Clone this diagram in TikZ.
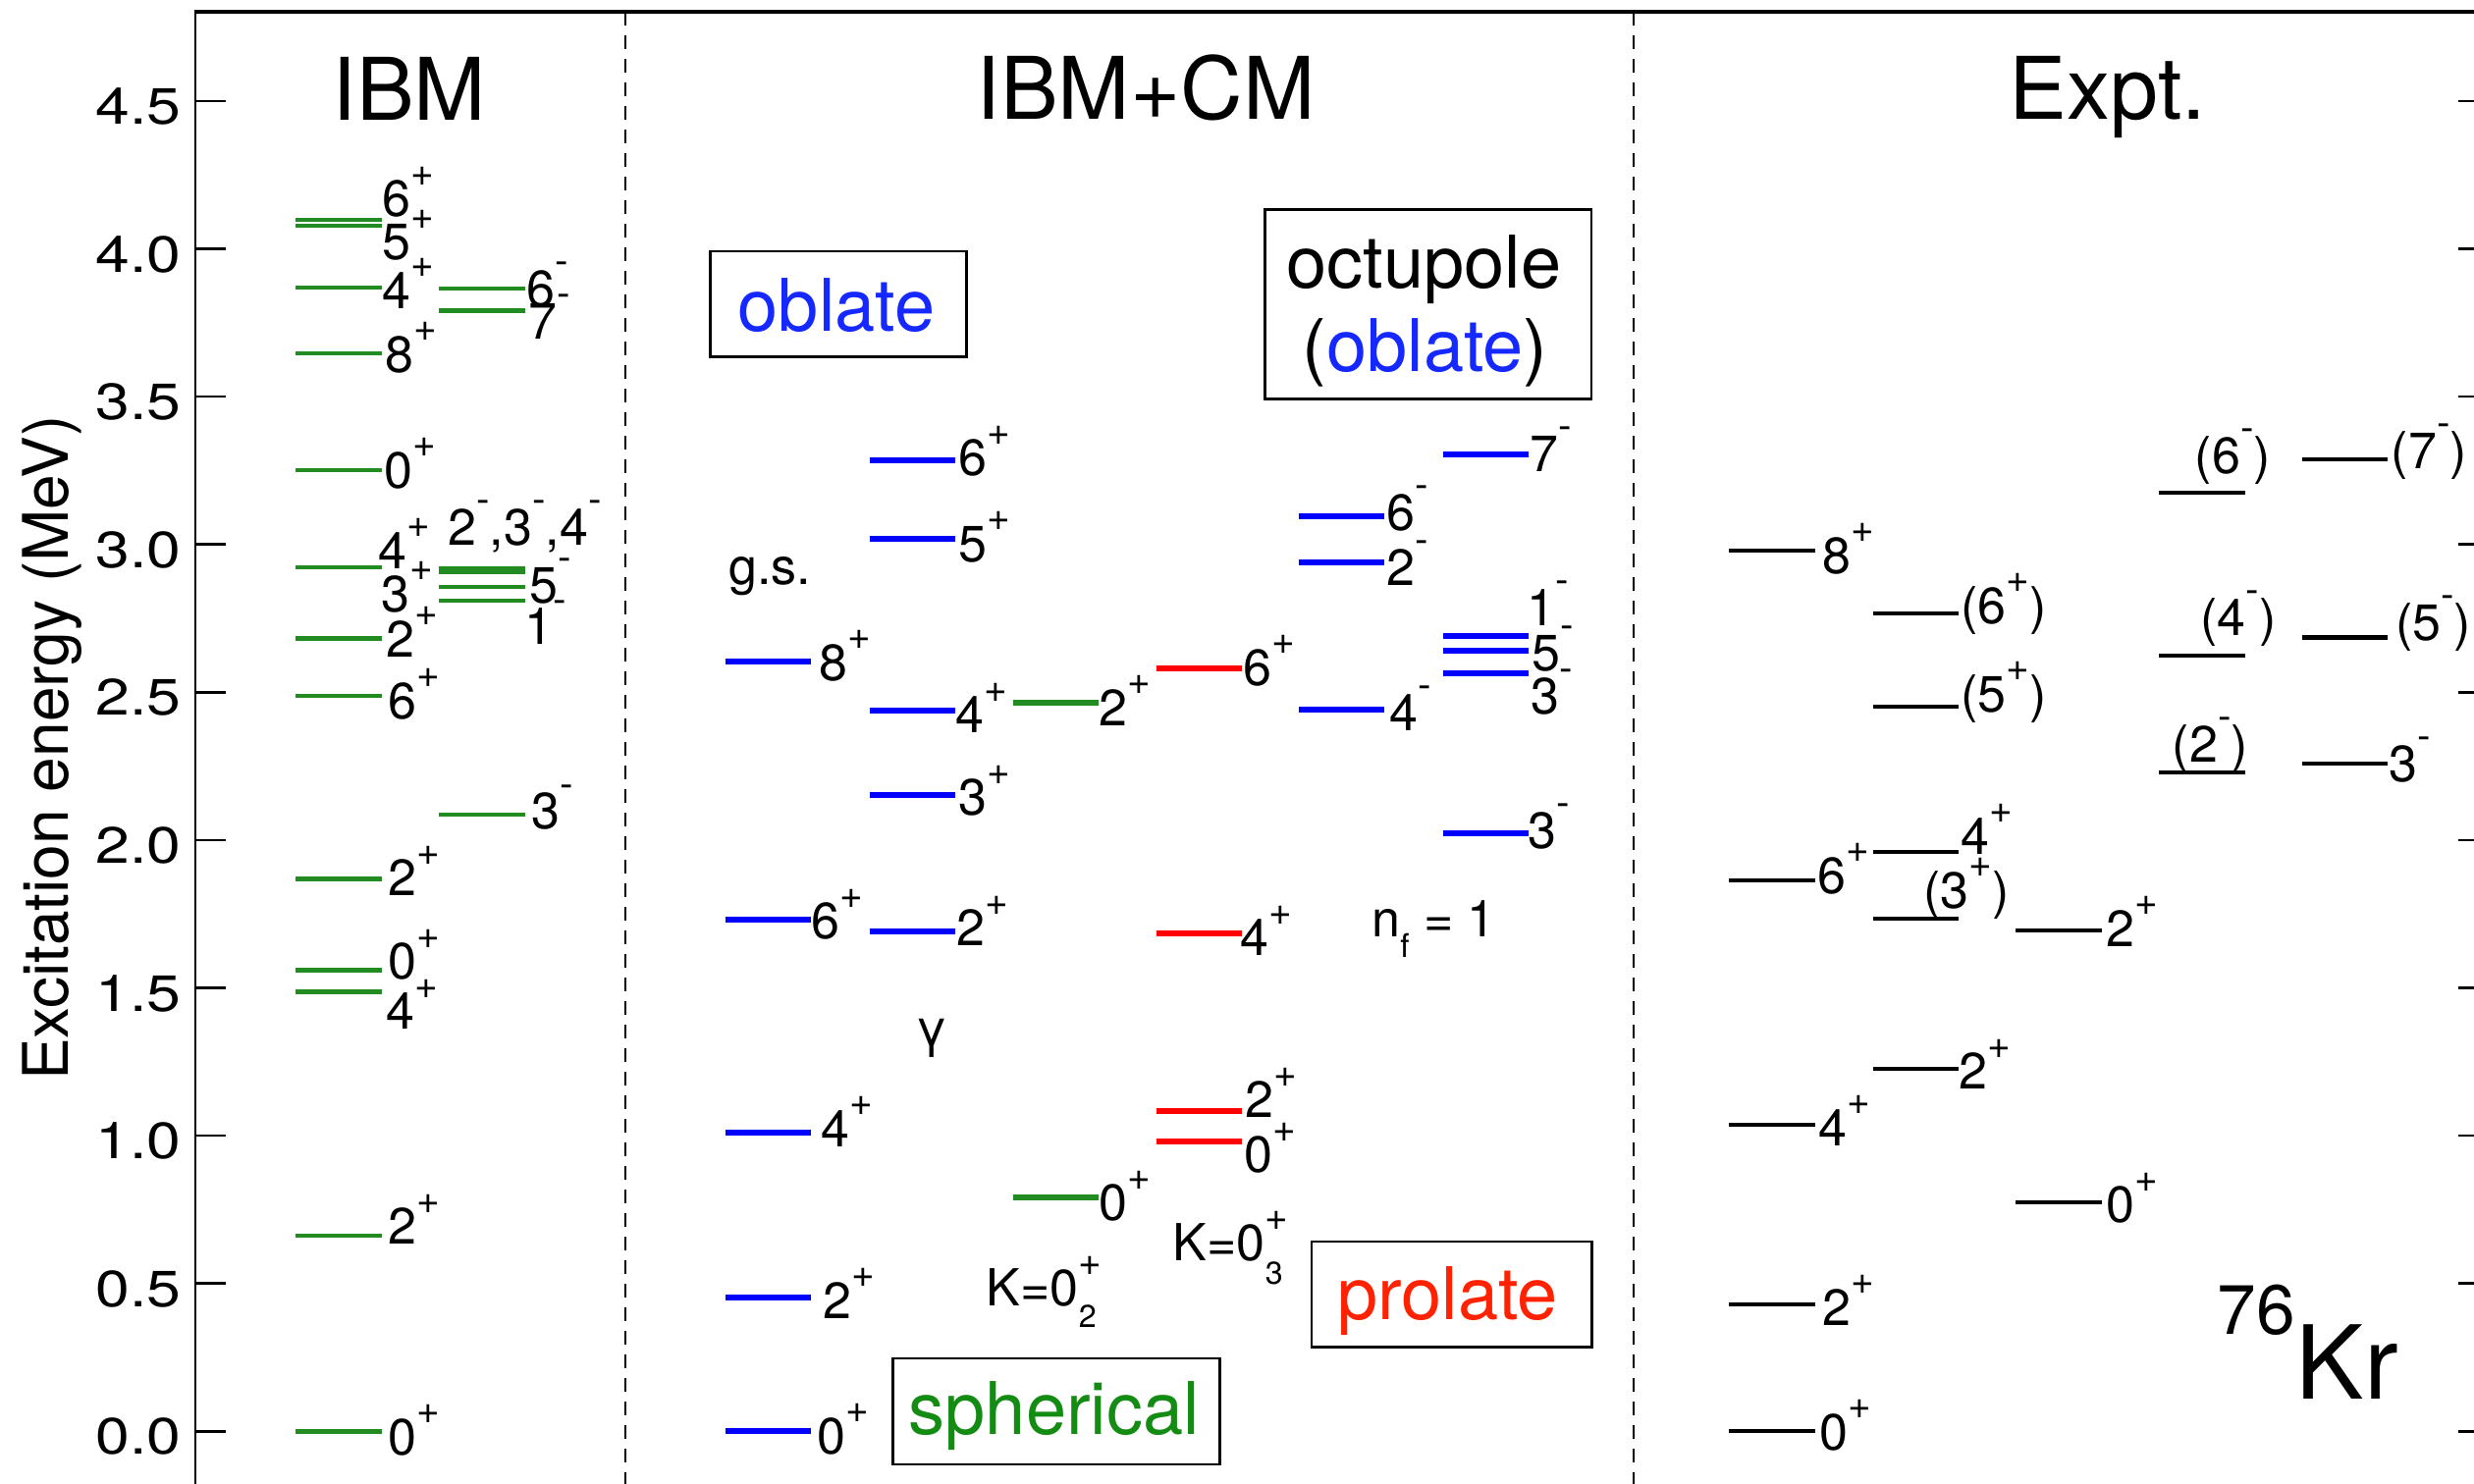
\documentclass[tikz,border=0pt]{standalone}
\usepackage{fontspec}
\setmainfont{TeX Gyre Heros}
\usepackage{graphicx}
\definecolor{igreen}{RGB}{34,139,34}
\definecolor{tblue}{RGB}{20,40,255}
\definecolor{tred}{RGB}{255,34,0}
\definecolor{tgreen}{RGB}{20,140,20}
\newcommand\Pl{\raisebox{0.6em}{\scalebox{0.78}{+}}}
\newcommand\Mi{\raisebox{0.63em}{\scalebox{0.78}{-}}}
\begin{document}
\begin{tikzpicture}[x=0.25pt,y=-0.25pt,
  lvG/.style={draw=igreen,line width=1.1pt},
  lvB/.style={draw=blue,line width=1.5pt},
  lvS/.style={draw=igreen,line width=1.5pt},
  lvR/.style={draw=red,line width=1.5pt},
  lvK/.style={draw=black,line width=1.05pt},
  lab/.style={anchor=base west,inner sep=0pt,font=\fontsize{13}{15}\selectfont},
  tkl/.style={anchor=base east,inner sep=0pt,font=\fontsize{13}{15}\selectfont},
  ttl/.style={anchor=base,inner sep=0pt,font=\fontsize{22}{26}\selectfont},
  boxt/.style={anchor=base west,inner sep=0pt,font=\fontsize{18.5}{22}\selectfont},
  frm/.style={draw=black,line width=0.7pt},
  dsh/.style={draw=black,line width=0.5pt,dash pattern=on 3.6pt off 2.4pt}]
\useasboundingbox (0,0) rectangle (2520,1512);
\clip (0,0) rectangle (2520,1512);
\fill[white] (0,0) rectangle (2520,1512);
% frame
\draw[line width=0.6pt] (199,1530) -- (199,12);
\draw[line width=1pt] (198,12) -- (2540,12);
\draw[dsh] (636.7,12) -- (636.7,1530);
\draw[dsh] (1664,12) -- (1664,1530);
% ticks and tick labels
\foreach \e/\t [count=\i] in {4.5/4.5,4.0/4.0,3.5/3.5,3.0/3.0,2.5/2.5,2.0/2.0,1.5/1.5,1.0/1.0,0.5/0.5,0.0/0.0}{
  \pgfmathsetmacro{\yy}{1458.3-301.2*\e}
  \draw[line width=0.65pt] (199,\yy) -- (230,\yy);
  \draw[line width=0.65pt] (2504,\yy) -- (2540,\yy);
  \node[tkl] (tk\i) at (185,\yy+23.5) {\scalebox{1.2}[1]{\t}};
}
\node[rotate=90,anchor=base,inner sep=0pt,font=\fontsize{16}{19}\selectfont] (ylab) at (69,762) {Excitation energy (MeV)};
% titles
\node[ttl] (t1) at (417,122) {IBM};
\node[ttl] (t2) at (1167,121) {IBM+CM};
\node[ttl] (t3) at (2147,121) {Expt.};
% ---------------- IBM ----------------
\foreach \y in {224,229.8,292.8,359.7,479,577.8,650.6,709,895.3,988.6,1010.4,1259.2,1458.3}
  \draw[lvG] (301,\y) -- (389,\y);
\foreach \y in {294.2,316.5,598,612,830.2}
  \draw[lvG] (447.3,\y) -- (535,\y);
\draw[draw=igreen,line width=2pt] (447.3,581) -- (535,581);
\node[lab] (ia1) at (388.6,220.5) {6\Pl};
\node[lab] (ia2) at (388.6,264.2) {5\Pl};
\node[lab] (ia3) at (388.6,314) {4\Pl};
\node[lab] (ia4) at (392,379) {8\Pl};
\node[lab] (ia5) at (391,497) {0\Pl};
\node[lab] (ia6) at (385,579) {4\Pl};
\node[lab] (ia7) at (388,623) {3\Pl};
\node[lab] (ia8) at (393,669) {2\Pl};
\node[lab] (ia9) at (394.4,732) {6\Pl};
\node[lab] (ia10) at (394.4,912.8) {2\Pl};
\node[lab] (ia11) at (395,997.8) {0\Pl};
\node[lab] (ia12) at (393,1048.8) {4\Pl};
\node[lab] (ia13) at (395,1267.5) {2\Pl};
\node[lab] (ia14) at (394.7,1482) {0\Pl};
\node[lab] (ib1) at (536,312.6) {6\Mi};
\node[lab] (ib2) at (538,345) {7\Mi};
\node[lab] (ib3) at (455.6,555) {2\Mi,3\Mi,4\Mi};
\node[lab] (ib4) at (538.7,614) {5\Mi};
\node[lab] (ib5) at (534,656.8) {1\Mi};
\node[lab] (ib6) at (540.4,844.8) {3\Mi};
% ---------------- IBM+CM ----------------
\foreach \y in {673.8,937.1,1153.8,1322.4,1458} \draw[lvB] (739,\y) -- (826,\y);
\foreach \y in {468.7,548.7,724.2,809.8,949.2} \draw[lvB] (885.7,\y) -- (972.8,\y);
\foreach \y in {715.5,1219.9} \draw[lvS] (1031.7,\y) -- (1118.8,\y);
\foreach \y in {681,950.7,1132.4,1162.5} \draw[lvR] (1177.7,\y) -- (1264.7,\y);
\foreach \y in {526,572.5,722.7} \draw[lvB] (1323,\y) -- (1410,\y);
\foreach \y in {463,648,663.1,686.4,849.1} \draw[lvB] (1469.7,\y) -- (1556.7,\y);
\node[lab] (c1) at (834,693) {8\Pl};
\node[lab] (c2) at (825.5,956.5) {6\Pl};
\node[lab] (c3) at (835.5,1168) {4\Pl};
\node[lab] (c4) at (837.5,1343) {2\Pl};
\node[lab] (c5) at (832,1481) {0\Pl};
\node[lab] (c6) at (976,484.7) {6\Pl};
\node[lab] (c7) at (976,572) {5\Pl};
\node[lab] (c8) at (973,746.5) {4\Pl};
\node[lab] (c9) at (976,830.2) {3\Pl};
\node[lab] (c10) at (974,963.8) {2\Pl};
\node[lab] (c11) at (1118.8,739) {2\Pl};
\node[lab] (c12) at (1118.8,1243.2) {0\Pl};
\node[lab] (c13) at (1265.4,698) {6\Pl};
\node[lab] (c14) at (1262.7,973.5) {4\Pl};
\node[lab] (c15) at (1267.4,1138.7) {2\Pl};
\node[lab] (c16) at (1267,1194.6) {0\Pl};
\node[lab] (c17) at (1411.4,540.5) {6\Mi};
\node[lab] (c18) at (1411.4,596) {2\Mi};
\node[lab] (c19) at (1414.8,744) {4\Mi};
\node[lab] (c20) at (1557.4,480) {7\Mi};
\node[lab] (c21) at (1555,637.4) {1\Mi};
\node[lab] (c22) at (1560,683.5) {5\Mi};
\node[lab] (c23) at (1558.7,727) {3\Mi};
\node[lab] (c24) at (1555.4,864) {3\Mi};
\node[lab] (gs) at (741.7,595) {g.s.};
\node[lab] (gam) at (932,1065) {γ};
\node[lab] (k2) at (1004,1330.7) {K=0\rlap{\raisebox{0.6em}{\scalebox{0.78}{+}}}\raisebox{-0.42em}{\scalebox{0.62}{2}}};
\node[lab] (k3) at (1194,1284.5) {K=0\rlap{\raisebox{0.6em}{\scalebox{0.78}{+}}}\raisebox{-0.46em}{\scalebox{0.62}{3}}};
\node[lab] (nf) at (1396.6,954) {n\raisebox{-0.42em}{\scalebox{0.64}{f}} = 1};
% boxes
\draw[frm] (723.7,256) rectangle (984.8,363.5);
\node[boxt,text=tblue] (obl) at (751,337) {oblate};
\draw[frm] (1288.2,213.3) rectangle (1621,406.2);
\node[boxt] (oct) at (1310,293) {octupole};
\node[boxt] (oct2) at (1326,378) {(\textcolor{tblue}{oblate})};
\draw[frm] (909.2,1384) rectangle (1242.6,1492);
\node[boxt,text=tgreen] (sph) at (925,1461.8) {spherical};
\draw[frm] (1336,1265) rectangle (1621.7,1372.7);
\node[boxt,text=tred] (pro) at (1361.5,1344) {prolate};
% ---------------- Expt ----------------
\foreach \y in {561.3,897.2,1146,1329.2,1458} \draw[lvK] (1761,\y) -- (1848.7,\y);
\foreach \y in {625.3,719.8,868.3,936,1089.2} \draw[lvK] (1908,\y) -- (1995,\y);
\foreach \y in {948.3,1225.2} \draw[lvK] (2053.4,\y) -- (2140.6,\y);
\foreach \y in {501.7,668,787.3} \draw[lvK] (2199.4,\y) -- (2286.7,\y);
\foreach \y in {467.8,649.5,778.3} \draw[lvK] (2345.3,\y) -- (2432,\y);
\node[lab] (e1) at (1856,584) {8\Pl};
\node[lab] (e2) at (1850.5,910) {6\Pl};
\node[lab] (e3) at (1852,1167) {4\Pl};
\node[lab] (e4) at (1856,1350) {2\Pl};
\node[lab] (e5) at (1853,1477) {0\Pl};
\node[lab] (e6) at (1996.6,635) {(6\Pl)};
\node[lab] (e7) at (1996.6,725) {(5\Pl)};
\node[lab] (e8) at (1996.3,870) {4\Pl};
\node[lab] (e9) at (1958.7,925) {(3\Pl)};
\node[lab] (e10) at (1994.8,1109.6) {2\Pl};
\node[lab] (e11) at (2144.7,964) {2\Pl};
\node[lab] (e12) at (2144.7,1245.6) {0\Pl};
\node[lab] (e13) at (2235,482.3) {(6\Mi)};
\node[lab] (e14) at (2240.8,647) {(4\Mi)};
\node[lab] (e15) at (2212,776) {(2\Mi)};
\node[lab] (e16) at (2435,477.5) {(7\Mi)};
\node[lab] (e17) at (2439.4,652) {(5\Mi)};
\node[lab] (e18) at (2433,796) {3\Mi};
\node[anchor=base west,inner sep=0pt,font=\fontsize{17.8}{20}\selectfont] (n76) at (2258,1359.8) {76};
\node[anchor=base west,inner sep=0pt,font=\fontsize{26}{30}\selectfont] (kr) at (2338,1425.4) {Kr};
\end{tikzpicture}
\end{document}
